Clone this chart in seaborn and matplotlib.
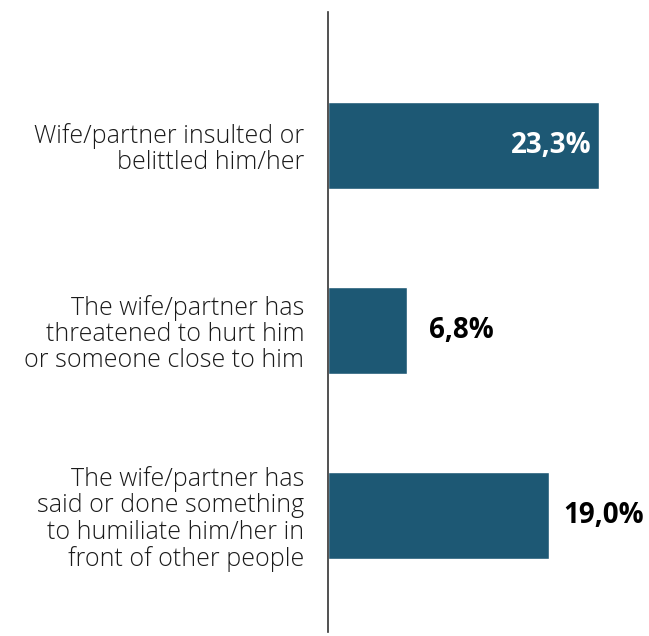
import seaborn as sns
import pandas as pd
import matplotlib.pyplot as plt

labels = [
    "Wife/partner insulted or\nbelittled him/her",
    "The wife/partner has\nthreatened to hurt him\nor someone close to him",
    "The wife/partner has\nsaid or done something\nto humiliate him/her in\nfront of other people",
]
values = [23.3, 6.8, 19.0]
value_text = ["23,3%", "6,8%", "19,0%"]

df = pd.DataFrame({"label": labels, "value": values})

sns.set_style("white")
plt.rcParams["font.family"] = ["Open Sans", "DejaVu Sans"]

fig = plt.figure(figsize=(6.49, 6.36), dpi=100)
ax = fig.add_axes([328 / 649, 4 / 636, 1 - 328 / 649, 620 / 636])

sns.barplot(data=df, x="value", y="label", orient="h", color="#1d5874",
            saturation=1, width=0.47, ax=ax)

ax.set_xlim(0, 27.6)
ax.set_ylim(2.63, -0.72)
ax.set_xlabel("")
ax.set_ylabel("")
ax.set_xticks([])
ax.tick_params(axis="y", length=0, pad=17)
for t in ax.get_yticklabels():
    t.set_fontsize(18)
    t.set_fontweight("light")
    t.set_color("#1a1a1a")
    t.set_multialignment("right")
    t.set_linespacing(1.07)

for s in ["top", "right", "bottom"]:
    ax.spines[s].set_visible(False)
ax.spines["left"].set_color("#333333")
ax.spines["left"].set_linewidth(1.2)

# value labels: inside for long bar, outside otherwise
for i, (v, txt) in enumerate(zip(values, value_text)):
    if v > 20:
        ax.text(v - 0.6, i, txt, ha="right", va="center", color="white",
                fontsize=20, fontweight="bold")
    else:
        ax.text(v + 4.7, i, txt, ha="center", va="center", color="black",
                fontsize=20, fontweight="bold")

plt.savefig("out.png", dpi=100)
